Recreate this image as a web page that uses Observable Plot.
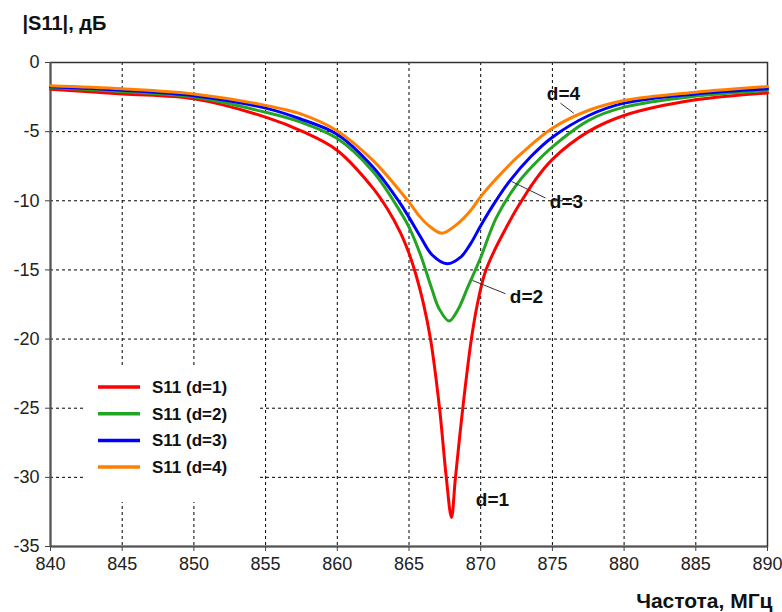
<!DOCTYPE html>
<html>
<head>
<meta charset="utf-8">
<script src="https://cdn.jsdelivr.net/npm/d3@7"></script>
<script src="https://cdn.jsdelivr.net/npm/@observablehq/plot@0.6"></script>
<style>
  body { margin: 0; background: #fff; }
  #chart { position: relative; width: 782px; height: 612px; }
</style>
</head>
<body>
<div id="chart"></div>
<script>
// Tick values
const xTicks = [840, 845, 850, 855, 860, 865, 870, 875, 880, 885, 890];
const yTicks = [0, -5, -10, -15, -20, -25, -30, -35];

// Series names and colours
const seriesNames = ["S11 (d=1)", "S11 (d=2)", "S11 (d=3)", "S11 (d=4)"];
const seriesColors = ["#ff0000", "#22a522", "#0000ff", "#ff8000"];

// d = 1
const freqD1 = [840, 845, 850, 855, 857.6, 860, 862.5, 863.5, 864.4, 865, 865.5, 866, 866.5, 867.13, 867.6, 867.96, 868.24, 868.75, 869.35, 869.8, 870.3, 871, 871.8, 872.5, 873.8, 875, 877.5, 880, 885, 890];
const s11D1  = [-1.93, -2.27, -2.63, -3.95, -5.0, -6.36, -9.1, -10.6, -12.3, -13.8, -15.4, -17.4, -20, -25, -30, -32.9, -30, -25, -20, -17.3, -15.2, -13.5, -11.9, -10.6, -8.5, -7.0, -5.0, -3.83, -2.7, -2.2];

// d = 2
const freqD2 = [840, 845, 850, 855, 857.4, 860, 862.5, 864.4, 865, 865.8, 866.6, 867.1, 867.8, 868.4, 869.1, 870, 871.1, 872.6, 873.7, 875, 877.5, 880, 885, 890];
const s11D2  = [-1.8, -2.1, -2.5, -3.6, -4.3, -5.5, -7.9, -10.8, -11.9, -13.9, -16.4, -17.8, -18.7, -17.9, -16.25, -14.1, -11.2, -8.7, -7.4, -6.1, -4.2, -3.23, -2.43, -2.02];

// d = 3
const freqD3 = [840, 845, 850, 855, 857.4, 860, 862.5, 864.4, 865, 865.8, 866.6, 867.66, 868.6, 869.3, 870, 871, 872, 873.5, 875, 877.5, 880, 885, 890];
const s11D3  = [-1.75, -2.0, -2.4, -3.3, -4.07, -5.2, -7.57, -10.2, -11.2, -12.6, -13.9, -14.56, -14.08, -13.1, -11.8, -10.1, -8.6, -6.8, -5.4, -3.85, -2.94, -2.27, -1.9];

// d = 4
const freqD4 = [840, 845, 850, 855, 857.4, 860, 862.5, 865, 865.8, 866.5, 867.3, 868.4, 869.3, 870, 871, 872.5, 875, 877.5, 880, 885, 890];
const s11D4  = [-1.68, -1.9, -2.27, -3.1, -3.7, -4.95, -7.1, -10.1, -11.2, -11.9, -12.34, -11.65, -10.7, -9.7, -8.5, -6.9, -4.75, -3.47, -2.75, -2.15, -1.74];

// Annotations
const labelText = ["d=1", "d=2", "d=3", "d=4"];
const labelFreq = [870.82, 873.19, 875.98, 875.77];
const labelS11  = [-31.6, -16.92, -10.05, -2.24];
const leaderFreq1 = [869.43, 872.15, 875.56];
const leaderS111  = [-15.76, -8.6, -2.94];
const leaderFreq2 = [871.73, 874.52, 876.49];
const leaderS112  = [-16.72, -9.8, -3.67];

const freqs = [freqD1, freqD2, freqD3, freqD4];
const vals = [s11D1, s11D2, s11D3, s11D4];
const rows = seriesNames.flatMap((name, i) =>
  freqs[i].map((f, j) => ({series: name, f, v: vals[i][j]})));
const labels = labelText.map((t, i) => ({t, f: labelFreq[i], v: labelS11[i]}));
const leaders = leaderFreq1.map((f, i) => ({f1: f, v1: leaderS111[i], f2: leaderFreq2[i], v2: leaderS112[i]}));

const font = "'Liberation Sans', Arial, sans-serif";

const svg = Plot.plot({
  width: 782,
  height: 612,
  marginLeft: 50,
  marginRight: 15,
  marginTop: 62,
  marginBottom: 66,
  style: {fontFamily: font, background: "#fff", color: "#222", overflow: "visible"},
  x: {domain: [840, 890]},
  y: {domain: [-35, 0]},
  color: {domain: seriesNames, range: seriesColors},
  marks: [
    Plot.ruleX(xTicks.slice(1, -1), {stroke: "#000", strokeWidth: 1, strokeDasharray: "3,3"}),
    Plot.ruleY(yTicks.slice(1, -1), {stroke: "#000", strokeWidth: 1, strokeDasharray: "3,3"}),
    Plot.frame({stroke: "#333", strokeWidth: 1.5}),
    Plot.ruleX([840], {stroke: "#555", strokeWidth: 2}),
    Plot.ruleY([-35], {stroke: "#555", strokeWidth: 2}),
    Plot.axisX(xTicks, {tickSize: 5, tickPadding: 6, fontSize: 18, label: null, stroke: "#444", fill: "#222", tickFormat: d => String(d)}),
    Plot.axisY(yTicks, {tickSize: 5, tickPadding: 6, fontSize: 18, label: null, stroke: "#444", fill: "#222", tickFormat: d => String(d)}),
    Plot.line(rows, {x: "f", y: "v", z: "series", stroke: "series", strokeWidth: 3, curve: "catmull-rom"}),
    Plot.link(leaders, {x1: "f1", y1: "v1", x2: "f2", y2: "v2", stroke: "#333", strokeWidth: 1}),
    Plot.text(labels, {x: "f", y: "v", text: "t", fontSize: 19, fontWeight: "bold", fill: "#111", textAnchor: "middle", lineAnchor: "middle"}),
    Plot.text(["|S11|, дБ"], {frameAnchor: "top-left", dx: -28, dy: -39, text: d => d, textAnchor: "start", lineAnchor: "middle", fontSize: 20, fontWeight: "bold", fill: "#111"}),
    Plot.text(["Частота, МГц"], {frameAnchor: "bottom-right", dx: 5, dy: 55, text: d => d, textAnchor: "end", lineAnchor: "middle", fontSize: 21, fontWeight: "bold", fill: "#111"})
  ]
});

// Legend inside the plot area
const g = d3.select(svg).append("g");
g.append("rect").attr("x", 86).attr("y", 365).attr("width", 172).attr("height", 137).attr("fill", "#fff");
seriesNames.forEach((name, i) => {
  const yy = 387 + i * 26.7;
  g.append("line").attr("x1", 98).attr("x2", 140).attr("y1", yy).attr("y2", yy)
    .attr("stroke", seriesColors[i]).attr("stroke-width", 3.5);
  g.append("text").attr("x", 152).attr("y", yy).attr("dy", "0.35em")
    .attr("text-anchor", "start")
    .attr("font-family", font).attr("font-size", 17).attr("font-weight", "bold")
    .attr("fill", "#111").text(name);
});

document.getElementById("chart").appendChild(svg);
</script>
</body>
</html>
